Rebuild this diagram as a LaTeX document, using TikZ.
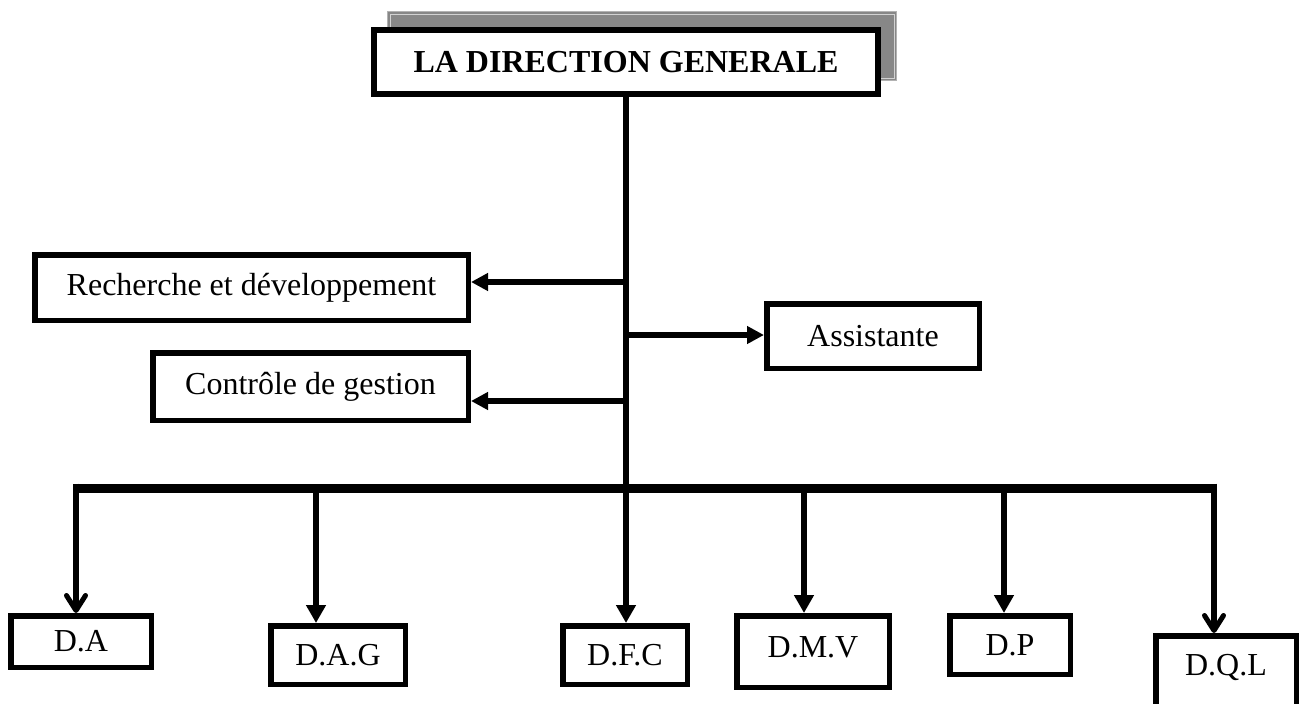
\documentclass[tikz,border=0pt]{standalone}
\usepackage{fontspec}
\setmainfont{Liberation Serif}
\usetikzlibrary{arrows.meta}
\begin{document}
\begin{tikzpicture}[x=1pt,y=-1pt,
  box/.style={draw=black, line width=5.5pt, fill=white, inner sep=0pt, font=\fontsize{32}{38}\selectfont},
  shadowbox/.style={draw=gray!60, fill={rgb,255:red,135;green,135;blue,135}, line width=1pt, inner sep=0pt, minimum width=509pt, minimum height=69pt},
  bevel/.style={draw=gray!35, line width=0.6pt},
  conn/.style={line width=5.5pt},
  trunk/.style={line width=6pt},
  buslin/.style={line width=9pt},
  tri/.style={-{Triangle[length=18pt,width=19pt]}},
  trih/.style={-{Triangle[length=17pt,width=17pt]}},
  barb/.style={-{Straight Barb[length=15pt,width=19pt,line width=5pt,round]}}]
\useasboundingbox (0,0) rectangle (1299,704);

% top box with shadow
\node[shadowbox] (dgs) at (642,46) {};
\draw[bevel] ([xshift=3pt,yshift=3pt]dgs.south west) rectangle ([xshift=-3pt,yshift=-3pt]dgs.north east);
\node[box, line width=6pt, minimum width=504pt, minimum height=64pt, font=\bfseries\fontsize{32}{38}\selectfont] (dg) at (626,62) {LA DIRECTION GENERALE};

% staff boxes
\node[box, minimum width=433.5pt, minimum height=65.5pt] (rd) at (251.5,287.5) {Recherche et développement};
\node[box, minimum width=315.5pt, minimum height=67.5pt] (cg) at (310.5,386.5) {Contrôle de gestion};
\node[box, minimum width=212.5pt, minimum height=64.5pt] (as) at (873,336) {Assistante};

% directions
\node[box, minimum width=140.5pt, minimum height=51.5pt] (da) at (81,641.5) {D.A};
\node[box, minimum width=134.5pt, minimum height=58.5pt] (dag) at (338,655) {D.A.G};
\node[box, minimum width=124.5pt, minimum height=58.5pt] (dfc) at (625,655) {D.F.C};
\node[box, minimum width=152.5pt, minimum height=71.5pt, text height=21pt, text depth=9pt] (dmv) at (813,651.5) {D.M.V};
\node[box, minimum width=120.5pt, minimum height=58.5pt] (dp) at (1010,645) {D.P};
\node[box, minimum width=140.5pt, minimum height=101.5pt, text height=21pt, text depth=43pt] (dql) at (1226,686.5) {D.Q.L};

% junction coordinates
\coordinate (jR) at (626,282);
\coordinate (jA) at (626,335);
\coordinate (jC) at (626,401);
\coordinate (bus) at (626,488);
\coordinate (b1) at (76,488);
\coordinate (b2) at (316,488);
\coordinate (b3) at (804,488);
\coordinate (b4) at (1004,488);
\coordinate (b5) at (1214,488);

% connectors
\draw[trunk] (dg.south) -- (bus);
\draw[conn, trih] (jR) -- (jR -| rd.east);
\draw[conn, trih] (jC) -- (jC -| cg.east);
\draw[conn, trih] (jA) -- (jA -| as.west);
\draw[buslin] (b1) -- (b5);
\draw[conn, barb, shorten <=-4.5pt] (b1) -- (b1 |- da.north);
\draw[conn, tri] (b2) -- (b2 |- dag.north);
\draw[conn, tri] (bus) -- (bus |- dfc.north);
\draw[conn, tri] (b3) -- (b3 |- dmv.north);
\draw[conn, tri] (b4) -- (b4 |- dp.north);
\draw[conn, barb, shorten <=-4.5pt] (b5) -- (b5 |- dql.north);
\end{tikzpicture}
\end{document}
